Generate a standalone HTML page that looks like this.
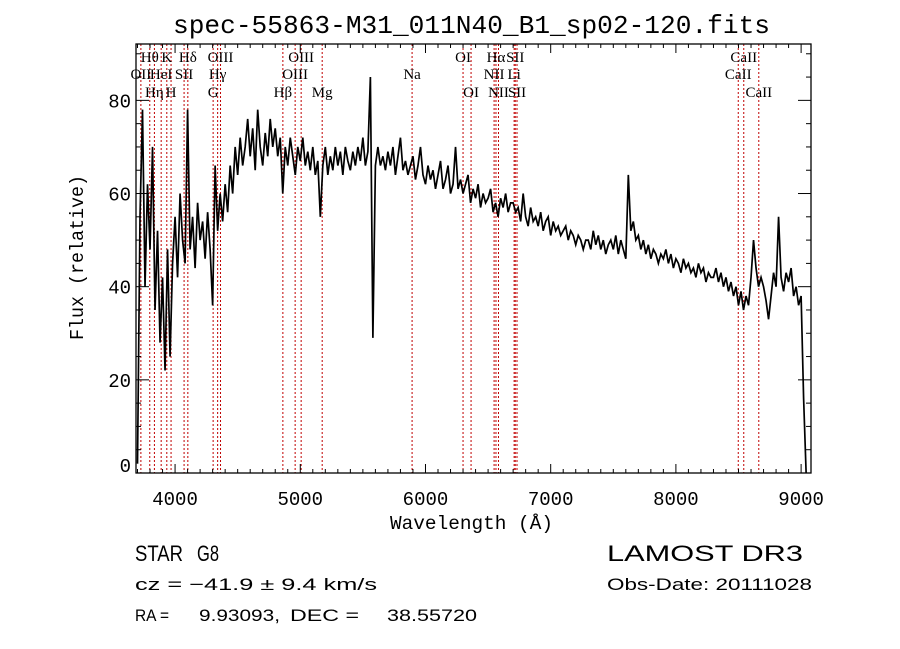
<!DOCTYPE html>
<html><head><meta charset="utf-8"><style>
html,body{margin:0;padding:0;background:#fff;}
svg{display:block;}
</style></head><body>
<svg id="chart" width="900" height="649" viewBox="0 0 900 649" xmlns="http://www.w3.org/2000/svg">
<rect x="0" y="0" width="900" height="649" fill="#fff"/>
<text x="173" y="33" font-family="Liberation Mono, monospace" font-size="26" textLength="597" lengthAdjust="spacingAndGlyphs">spec-55863-M31_011N40_B1_sp02-120.fits</text>
<g id="lines"></g>
<g id="linelabels"></g>
<g id="series"></g>
<g id="axes"></g>
<text x="390" y="529" font-family="Liberation Mono, monospace" font-size="19" textLength="163" lengthAdjust="spacingAndGlyphs">Wavelength (Å)</text>
<text transform="translate(83,340) rotate(-90)" font-family="Liberation Mono, monospace" font-size="19" textLength="165" lengthAdjust="spacingAndGlyphs">Flux (relative)</text>
<g font-family="Liberation Sans, sans-serif" fill="#000">
<text x="135" y="561" font-size="22" textLength="48" lengthAdjust="spacingAndGlyphs">STAR</text>
<text x="197" y="561" font-size="22" textLength="22" lengthAdjust="spacingAndGlyphs">G8</text>
<text x="607" y="561" font-size="22" textLength="196" lengthAdjust="spacingAndGlyphs">LAMOST DR3</text>
<text x="135" y="590" font-size="17" textLength="242" lengthAdjust="spacingAndGlyphs">cz = −41.9 ± 9.4 km/s</text>
<text x="607" y="590" font-size="17" textLength="205" lengthAdjust="spacingAndGlyphs">Obs-Date: 20111028</text>
<text x="135" y="621" font-size="17" textLength="34" lengthAdjust="spacingAndGlyphs">RA =</text>
<text x="199" y="621" font-size="17" textLength="81" lengthAdjust="spacingAndGlyphs">9.93093,</text>
<text x="290" y="621" font-size="17" textLength="69" lengthAdjust="spacingAndGlyphs">DEC =</text>
<text x="387" y="621" font-size="17" textLength="90" lengthAdjust="spacingAndGlyphs">38.55720</text>
</g>
</svg>
<script>
const lambdaStart = 3700;
const lambdaStep = 20;
const flux = [
2, 55, 78, 40, 62, 48, 70, 35, 52, 28,
42, 22, 48, 25, 45, 55, 42, 60, 50, 45,
78, 48, 55, 44, 58, 50, 54, 46, 56, 48,
36, 66, 52, 60, 54, 62, 56, 66, 60, 70,
64, 72, 66, 70, 76, 68, 74, 65, 78, 70,
66, 73, 68, 76, 70, 74, 68, 72, 60, 70,
66, 72, 68, 64, 70, 67, 72, 66, 69, 65,
70, 64, 67, 55, 66, 70, 64, 68, 65, 70,
66, 69, 64, 70, 67, 65, 69, 66, 70, 67,
72, 66, 69, 85, 29, 66, 70, 66, 68, 65,
69, 66, 70, 64, 68, 72, 65, 67, 64, 66,
68, 63, 66, 70, 64, 62, 66, 63, 65, 61,
64, 67, 61, 63, 66, 60, 62, 70, 61, 63,
60, 62, 64, 58, 61, 59, 62, 57, 60, 58,
59, 61, 56, 58, 55, 59, 57, 60, 56, 58,
58, 56, 57, 54, 60, 55, 53, 57, 54, 55,
53, 56, 52, 54, 55, 51, 54, 52, 53, 51,
52, 53, 50, 52, 51, 49, 51, 50, 48, 50,
50, 48, 52, 49, 51, 48, 50, 47, 49, 50,
48, 51, 47, 50, 48, 46, 64, 52, 54, 50,
51, 48, 50, 47, 49, 46, 48, 47, 45, 47,
46, 48, 45, 47, 44, 46, 45, 43, 46, 44,
45, 43, 44, 42, 45, 43, 44, 41, 43, 42,
42, 44, 41, 43, 40, 42, 39, 41, 38, 40,
36, 39, 35, 38, 36, 42, 50, 44, 40, 42,
40, 37, 33, 38, 43, 40, 55, 42, 39, 43,
41, 44, 38, 40, 36, 38, 16, 0
];
const lineWaves = [3727,3798,3835,3889,3934,3968,4072,4102,4304,4340,4363,4861,4959,5007,5175,5893,6300,6364,6548,6563,6583,6708,6717,6731,8498,8542,8662];
const lineNames = ["OII","Hθ","Hη","HeI","K","H","SII","Hδ","G","Hγ","OIII","Hβ","OIII","OIII","Mg","Na","OI","OI","NII","Hα","NII","Li","SII","SII","CaII","CaII","CaII"];
const lineRows = [1,0,2,1,0,2,1,0,2,1,0,2,1,0,2,1,0,2,1,0,2,1,0,2,1,0,2];
const xTicks = [4000,5000,6000,7000,8000,9000];
const yTicks = [0,20,40,60,80];

const L=136,R=811,T=44,B=473;
const xMin=3688, xMax=9079, yMin=0, yMax=92.1;
const X = v => L + (v - xMin) / (xMax - xMin) * (R - L);
const Y = v => B - (v - yMin) / (yMax - yMin) * (B - T);
const NS="http://www.w3.org/2000/svg";
function mk(tag, parent, attrs){const e=document.createElementNS(NS,tag);for(const k in attrs)e.setAttribute(k,attrs[k]);parent.appendChild(e);return e;}

const gl=document.getElementById('lines'), gll=document.getElementById('linelabels');
const rowY=[62,79,97];
lineWaves.forEach((w,i)=>{
  const ln=mk('line',gl,{x1:X(w),x2:X(w),y1:T,y2:B,stroke:'#c00000','stroke-width':1,'stroke-dasharray':'2,2'});
  
  
  const t=mk('text',gll,{x:X(w),y:rowY[lineRows[i]],'text-anchor':'middle','font-family':'Liberation Serif, serif','font-size':15});
  t.textContent=lineNames[i];
  
  
});

const gs=document.getElementById('series');
const pts=flux.map((f,i)=>X(lambdaStart+i*lambdaStep).toFixed(2)+','+Y(f).toFixed(2)).join(' ');
const pl=mk('polyline',gs,{points:pts,fill:'none',stroke:'#000','stroke-width':1.7,'stroke-linejoin':'miter'});



const ga=document.getElementById('axes');
const frame=mk('rect',ga,{x:L,y:T,width:R-L,height:B-T,fill:'none',stroke:'#000','stroke-width':1.3});


for(let v=3700; v<=9000; v+=100){
  const major = v%1000===0; const len = major?9:4;
  mk('line',ga,{x1:X(v),x2:X(v),y1:B,y2:B-len,stroke:'#000','stroke-width':1});
  mk('line',ga,{x1:X(v),x2:X(v),y1:T,y2:T+len,stroke:'#000','stroke-width':1});
}
for(let v=0; v<=90; v+=5){
  const major = v%20===0; const len = major?13:5;
  mk('line',ga,{x1:L,x2:L+len,y1:Y(v),y2:Y(v),stroke:'#000','stroke-width':1});
  mk('line',ga,{x1:R,x2:R-len,y1:Y(v),y2:Y(v),stroke:'#000','stroke-width':1});
}
xTicks.forEach(v=>{
  const t=mk('text',ga,{x:X(v),y:505,'text-anchor':'middle','font-family':'Liberation Mono, monospace','font-size':19});
  t.textContent=v;
  
  
});
yTicks.forEach(v=>{
  const yy = v===0 ? Y(v)-1 : Y(v)+7;
  const t=mk('text',ga,{x:131,y:yy,'text-anchor':'end','font-family':'Liberation Mono, monospace','font-size':19});
  t.textContent=v;
  
  
});
</script>
</body></html>
